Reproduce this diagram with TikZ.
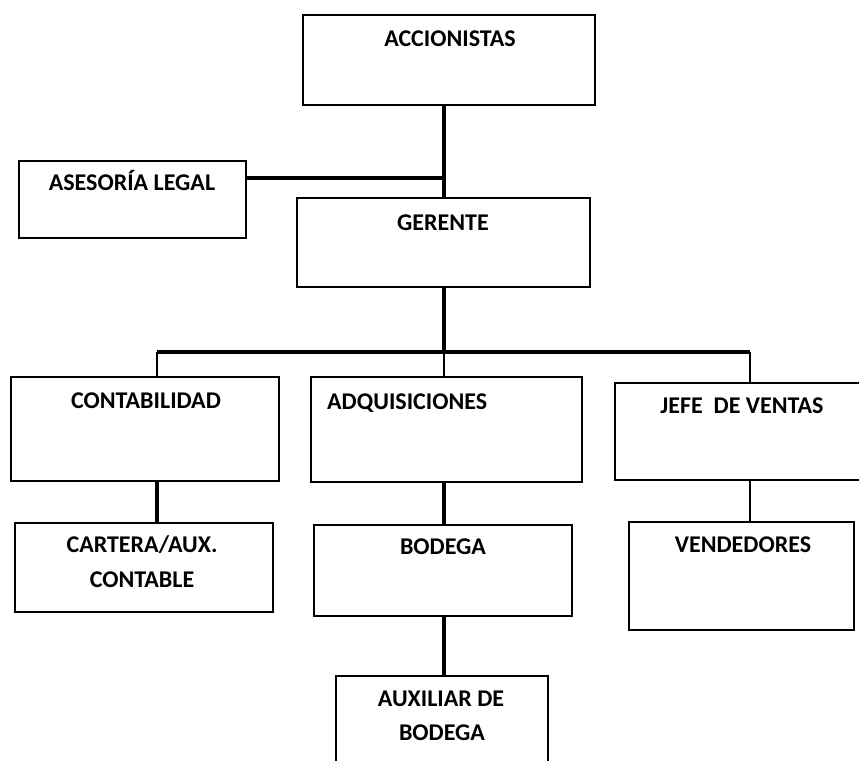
\documentclass[tikz,border=0pt]{standalone}
\usepackage{fontspec}
\setmainfont{Carlito}
\begin{document}
\begin{tikzpicture}[x=1pt,y=-1pt,
  orgbox/.style={draw, line width=2.8pt, inner sep=0pt},
  lbl/.style={font=\fontsize{24}{28}\selectfont\bfseries, inner sep=0pt, text height=15pt, text depth=0pt},
  conn/.style={line width=3.2pt},
  thin conn/.style={line width=2.2pt}]
\useasboundingbox (0,0) rectangle (859,760);
\clip (0,0) rectangle (859,760);
% boxes
\node[orgbox, minimum width=292pt, minimum height=90pt]  (acc) at (449,60) {};
\node[orgbox, minimum width=227pt, minimum height=77pt]  (ase) at (132.5,199.5) {};
\node[orgbox, minimum width=293pt, minimum height=89pt]  (ger) at (443.5,242.5) {};
\node[orgbox, minimum width=268pt, minimum height=104pt] (con) at (145,429) {};
\node[orgbox, minimum width=271pt, minimum height=105pt] (adq) at (446.5,429.5) {};
\node[orgbox, minimum width=257pt, minimum height=97pt]  (jef) at (743.5,431.5) {};
\node[orgbox, minimum width=258pt, minimum height=89pt]  (car) at (144,567.5) {};
\node[orgbox, minimum width=258pt, minimum height=91pt]  (bod) at (443,570.5) {};
\node[orgbox, minimum width=225pt, minimum height=108pt] (ven) at (741.5,576) {};
\node[orgbox, minimum width=212pt, minimum height=114pt] (aux) at (442,733) {};
% labels
\node[lbl] (tacc) at (450,39) {ACCIONISTAS};
\node[lbl] (tase) at (132,183) {ASESORÍA LEGAL};
\node[lbl] (tger) at (443,223) {GERENTE};
\node[lbl] (tcon) at (146,401) {CONTABILIDAD};
\node[lbl, anchor=west] (tadq) at (327,402) {ADQUISICIONES};
\node[lbl] (tjef) at (742,406) {JEFE~~DE VENTAS};
\node[lbl] (tcar1) at (142,545) {CARTERA/AUX.};
\node[lbl] (tcar2) at (142,580) {CONTABLE};
\node[lbl] (tbod) at (443,547) {BODEGA};
\node[lbl] (tven) at (743,545) {VENDEDORES};
\node[lbl] (taux1) at (441,699) {AUXILIAR DE};
\node[lbl] (taux2) at (442,733) {BODEGA};
% helper coordinates
\coordinate (xm) at (444,0);
\coordinate (xl) at (157,0);
\coordinate (xr) at (750,0);
\coordinate (hy) at (0,352);
\coordinate (aj) at (444,178);
% connectors
\draw[conn] (acc.south -| xm) -- (ger.north -| xm);
\draw[conn] (ase.east |- aj) -- (aj);
\draw[conn] (ger.south -| xm) -- (hy -| xm);
\draw[conn] (hy -| xl) -- (hy -| xr);
\draw[thin conn] (hy -| xl) -- (con.north -| xl);
\draw[thin conn] (hy -| xm) -- (adq.north -| xm);
\draw[thin conn] (hy -| xr) -- (jef.north -| xr);
\draw[conn] (con.south -| xl) -- (car.north -| xl);
\draw[conn] (adq.south -| xm) -- (bod.north -| xm);
\draw[thin conn] (jef.south -| xr) -- (ven.north -| xr);
\draw[conn] (bod.south -| xm) -- (aux.north -| xm);
\end{tikzpicture}
\end{document}
